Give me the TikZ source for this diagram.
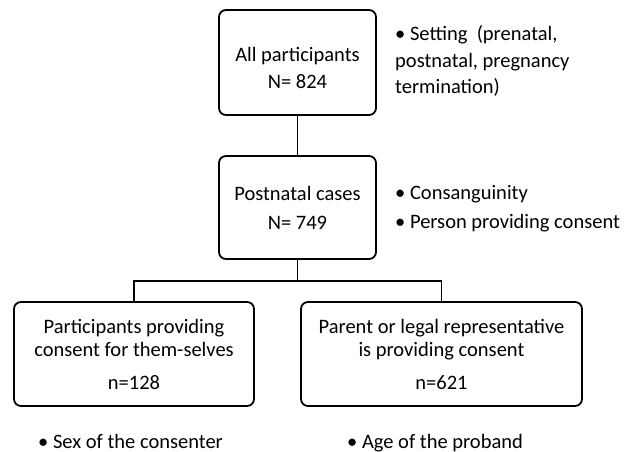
\documentclass[tikz,border=0pt]{standalone}
\usepackage{fontspec}
\setmainfont{Carlito}
\begin{document}
\begin{tikzpicture}[x=1pt,y=-1pt,
  box/.style={draw=black, line width=1.8pt, rounded corners=7pt, align=center,
    inner sep=0pt, font=\fontsize{20.5}{23}\selectfont},
  bul/.style={anchor=base west, inner sep=0pt, align=left,
    font=\fontsize{20.5}{26.5}\selectfont},
  conn/.style={line width=1.8pt}]
\useasboundingbox (0,0) rectangle (630,452);
\node[box, minimum width=157pt, minimum height=105pt] (b1) at (297.5,62.5)
  {\rule{0pt}{26pt}All participants\\[4pt]N= 824};
\node[box, minimum width=157pt, minimum height=103pt] (b2) at (297.5,207.5)
  {Postnatal cases\\[6pt]N= 749};
\node[box, minimum width=240pt, minimum height=104pt] (b3) at (134,354)
  {Participants providing\\consent for them-selves\\[10pt]n=128};
\node[box, minimum width=281pt, minimum height=104pt] (b4) at (441.5,354)
  {Parent or legal representative\\is providing consent\\[10pt]n=621};
\coordinate (j) at (297.5,281);
\draw[conn] (b1) -- (b2);
\draw[conn] (b2) -- (j);
\draw[conn] (b3.north) |- (j) -| (b4.north);
\node[bul] (s1) at (395,94) {• Setting~~(prenatal,\\postnatal, pregnancy\\termination)};
\node[bul] (s2) at (395,199) {• Consanguinity};
\node[bul] (s3) at (395,228) {• Person providing consent};
\node[bul] (s4) at (38,448) {• Sex of the consenter};
\node[bul] (s5) at (347,448) {• Age of the proband};
\end{tikzpicture}
\end{document}
